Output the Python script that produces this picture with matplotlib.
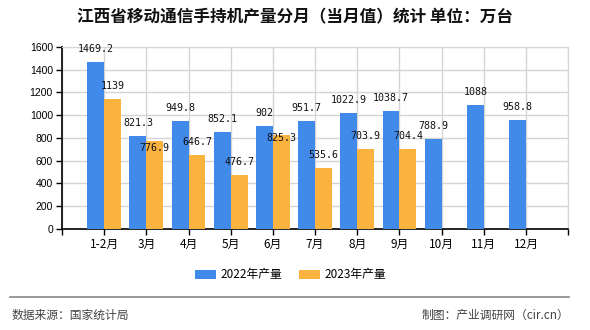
import matplotlib
matplotlib.use('Agg')
import matplotlib.pyplot as plt
import numpy as np

plt.rcParams['font.family'] = ['Noto Sans CJK SC', 'DejaVu Sans']

# data
months = ['1-2月', '3月', '4月', '5月', '6月', '7月', '8月', '9月', '10月', '11月', '12月']
output_2022 = [1469.2, 821.3, 949.8, 852.1, 902, 951.7, 1022.9, 1038.7, 788.9, 1088, 958.8]
output_2023 = [1139, 776.9, 646.7, 476.7, 825.3, 535.6, 703.9, 704.4]
yticks = [0, 200, 400, 600, 800, 1000, 1200, 1400, 1600]

blue = '#418AE9'
orange = '#FBB340'

fig = plt.figure(figsize=(5.9, 3.3), dpi=100)
ax = fig.add_axes([0.105, 0.306, 0.858, 0.552])

x = np.arange(len(months))
w = 0.4
b1 = ax.bar(x - w / 2, output_2022, width=w, color=blue, label='2022年产量', zorder=3)
b2 = ax.bar(np.arange(len(output_2023)) + w / 2, output_2023, width=w, color=orange,
            label='2023年产量', zorder=3)

ax.set_xlim(-1, len(months))
ax.set_ylim(0, 1600)

# value labels, about 13px above the bar top; an orange label that would
# collide with the blue one beside it is pushed down below it
px = 1600 / (0.552 * 330)   # data units per pixel
blue_pos = [v + 13 * px for v in output_2022]
orange_pos = []
for i, v in enumerate(output_2023):
    y = v + 13 * px
    if abs(y - blue_pos[i]) < 12 * px:
        y = blue_pos[i] - 25 * px
    orange_pos.append(y)

for bars, vals, pos in [(b1, output_2022, blue_pos), (b2, output_2023, orange_pos)]:
    for rect, v, y in zip(bars, vals, pos):
        ax.text(rect.get_x() + rect.get_width() / 2, y, f'{v:g}',
                ha='center', va='center', fontsize=7.2, family='DejaVu Sans Mono',
                color='#111111', zorder=4)

ax.set_yticks(yticks)
ax.set_yticklabels([str(t) for t in yticks], fontsize=7.5, family='Liberation Sans')
ax.set_xticks(np.arange(-1, len(months) + 1))
ax.set_xticklabels([''] + months + [''], fontsize=8.5)
ax.tick_params(axis='both', length=4, width=1, color='black', pad=2.5)

ax.grid(True, color='#d4d4d4', linewidth=1, zorder=0)
for side in ['top', 'right']:
    ax.spines[side].set_color('#d4d4d4')
for side in ['left', 'bottom']:
    ax.spines[side].set_color('black')
    ax.spines[side].set_linewidth(1.2)

fig.text(0.5, 0.946, '江西省移动通信手持机产量分月（当月值）统计 单位：万台',
         ha='center', va='center', fontsize=12, fontweight='bold', color='#111111')

fig.legend(handles=[b1, b2], loc='center', bbox_to_anchor=(0.492, 0.167), ncol=2,
           frameon=False, fontsize=8.5, handlelength=1.8, handleheight=0.8,
           columnspacing=1.4, handletextpad=0.35)

fig.add_artist(plt.Line2D([0.017, 0.964], [0.099, 0.099], color='#888888', linewidth=1.2))
fig.text(0.02, 0.045, '数据来源：国家统计局', ha='left', va='center', fontsize=8.5, color='#444444')
fig.text(0.965, 0.045, '制图：产业调研网（cir.cn）', ha='right', va='center', fontsize=8.5, color='#444444')

fig.savefig('out.png', dpi=100)
